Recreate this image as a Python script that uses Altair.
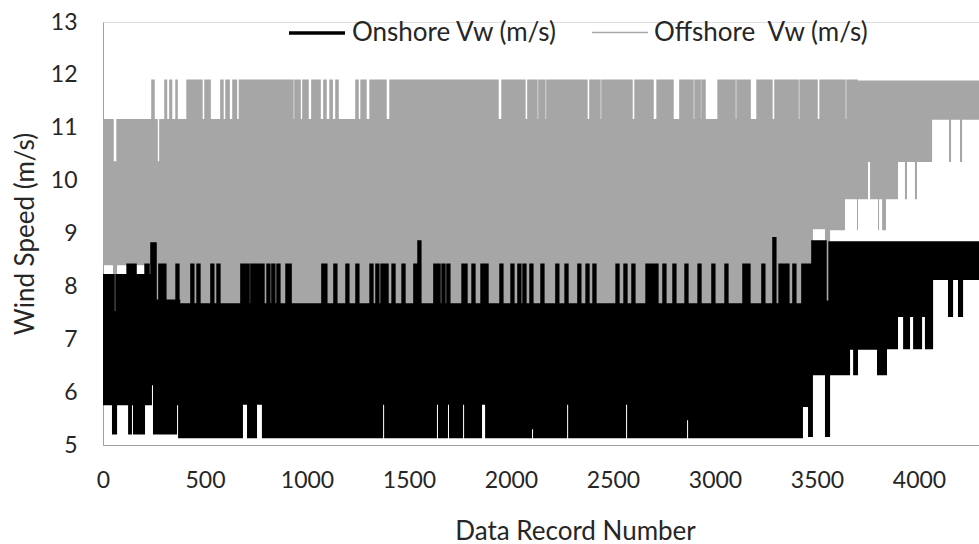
import altair as alt
import pandas as pd

# ---------------- data (record number, wind speed m/s) ----------------
X_MAX = 4294
SERIES = ["Onshore Vw (m/s)", "Offshore\u00a0 Vw (m/s)"]

# Offshore: upper envelope (step levels) and narrow dips in it
offshore_top_steps = [
    (0, 11.15), (49, 10.35), (69, 11.15), (240, 11.9), (250, 11.15), (265, 10.35), (279, 11.15),
    (304, 11.9), (311, 11.15), (328, 11.9), (336, 11.15), (358, 11.9), (363, 11.15), (412, 11.9),
    (485, 11.15), (500, 11.9), (525, 11.15), (578, 11.9), (588, 11.15), (603, 11.9), (618, 11.15),
    (637, 11.9), (654, 11.15), (669, 11.9), (931, 11.15), (941, 11.9), (966, 11.15), (980, 11.9),
    (1005, 11.15), (1024, 11.9), (1064, 11.15), (1083, 11.9), (1093, 11.15), (1113, 11.9),
    (1123, 11.15), (1142, 11.9), (1152, 11.15), (1240, 11.9), (1250, 11.15), (1265, 11.9),
    (1289, 11.15), (1309, 11.9), (1387, 11.15), (1407, 11.9), (3701, 11.88),
]
offshore_top_dips = [
    (1446, 1452, 10.4), (1463, 1468, 11.15), (1495, 1500, 11.15), (1659, 1665, 11.15),
    (1799, 1805, 11.15), (1936, 1956, 11.15), (2068, 2083, 11.15), (2127, 2137, 11.15),
    (2166, 2176, 11.15), (2206, 2211, 11.15), (2265, 2270, 11.15), (2372, 2387, 11.15),
    (2421, 2426, 11.15), (2436, 2446, 11.15), (2544, 2549, 11.15), (2593, 2608, 11.15),
    (2696, 2716, 11.15), (2794, 2828, 11.15), (2892, 2902, 11.15), (2927, 2936, 11.15),
    (2951, 3015, 11.15), (3034, 3039, 11.15), (3098, 3108, 11.15), (3172, 3206, 11.15),
    (3279, 3294, 11.15), (3407, 3417, 11.15), (3500, 3515, 11.15), (3549, 3554, 11.15),
    (3637, 3647, 11.15), (3696, 3701, 11.15),
]
# Offshore: lower envelope
offshore_bottom_steps = [
    (0, 8.4), (49, 7.5), (69, 8.4), (250, 7.72), (370, 7.65), (3480, 9.08), (3539, 7.7),
    (3564, 9.06), (3637, 9.65), (3897, 10.35), (4064, 11.15),
]
offshore_bottom_spikes = [
    (3696, 3701, 9.06), (3750, 3760, 10.35), (3799, 3804, 9.06), (3819, 3838, 9.06),
    (3931, 3941, 9.65), (3980, 3990, 9.65), (4147, 4157, 10.35), (4201, 4211, 10.35),
]

# Onshore: upper envelope and its upward spikes
onshore_top_steps = [
    (0, 8.2), (49, 7.5), (69, 8.2), (123, 8.4), (142, 8.2), (147, 8.4), (157, 8.2), (211, 8.4),
    (221, 8.2), (240, 8.8), (255, 7.72), (370, 7.65), (3431, 8.4), (3480, 8.84), (3539, 7.7),
    (3564, 8.82),
]
onshore_top_spikes = [
    (279, 283, 8.4), (299, 303, 8.4), (363, 367, 8.4), (436, 440, 8.4), (466, 470, 8.4),
    (534, 538, 8.4), (564, 568, 8.4), (681, 711, 8.4), (730, 745, 8.4), (760, 784, 8.4),
    (809, 813, 8.4), (833, 837, 8.4), (858, 862, 8.4), (902, 917, 8.4), (1078, 1082, 8.4),
    (1088, 1092, 8.4), (1137, 1141, 8.4), (1196, 1200, 8.4), (1245, 1249, 8.4), (1314, 1318, 8.4),
    (1343, 1347, 8.4), (1368, 1392, 8.4), (1422, 1426, 8.4), (1471, 1475, 8.4), (1529, 1533, 8.4),
    (1549, 1553, 8.84), (1627, 1647, 8.4), (1667, 1671, 8.4), (1691, 1695, 8.4), (1765, 1779, 8.4),
    (1814, 1818, 8.4), (1858, 1882, 8.4), (1951, 1955, 8.4), (2005, 2009, 8.4), (2039, 2043, 8.4),
    (2064, 2068, 8.4), (2098, 2102, 8.4), (2152, 2156, 8.4), (2225, 2229, 8.4), (2270, 2274, 8.4),
    (2333, 2337, 8.4), (2373, 2377, 8.4), (2407, 2411, 8.4), (2520, 2524, 8.4), (2559, 2563, 8.4),
    (2598, 2602, 8.4), (2667, 2671, 8.4), (2677, 2681, 8.4), (2691, 2695, 8.4), (2711, 2715, 8.4),
    (2750, 2754, 8.4), (2799, 2803, 8.4), (2858, 2862, 8.4), (2922, 2926, 8.4), (2990, 2994, 8.4),
    (3054, 3058, 8.4), (3142, 3146, 8.4), (3162, 3166, 8.4), (3235, 3239, 8.4), (3289, 3293, 8.9),
    (3319, 3323, 8.4), (3338, 3342, 8.4), (3353, 3357, 8.4), (3387, 3391, 8.4),
]
# Onshore: lower envelope and its upward notches
onshore_bottom_steps = [
    (0, 5.75), (44, 5.2), (69, 5.75), (123, 5.2), (142, 5.75), (147, 5.2), (206, 5.75),
    (240, 6.13), (245, 5.2), (363, 5.75), (368, 5.13), (3431, 5.72), (3456, 5.15), (3480, 6.32),
    (3539, 5.15), (3564, 6.32), (3662, 6.8), (3794, 6.32), (3843, 6.81), (3897, 7.42), (4069, 8.12),
]
onshore_bottom_spikes = [
    (686, 706, 5.76), (755, 779, 5.76), (1373, 1378, 5.76), (1637, 1642, 5.76), (1691, 1696, 5.76),
    (1765, 1770, 5.76), (1858, 1873, 5.76), (2103, 2108, 5.3), (2275, 2280, 5.76), (2564, 2569, 5.76),
    (2863, 2868, 5.47), (3677, 3701, 6.32), (3922, 3956, 6.81), (3971, 4015, 6.81),
    (4029, 4069, 6.81), (4142, 4167, 7.42), (4191, 4216, 7.42),
]

x_ticks = list(range(0, 4001, 500))
y_ticks = list(range(5, 14))


# ---------------- table building ----------------
def level_at(steps, extras, x):
    for s, e, v in extras:
        if s <= x < e:
            return v
    val = steps[0][1]
    for r, v in steps:
        if r <= x:
            val = v
        else:
            break
    return val


def band_table(name, top, top_extra, bottom, bottom_extra):
    pts = {0, X_MAX}
    for steps, extras in ((top, top_extra), (bottom, bottom_extra)):
        pts.update(r for r, _ in steps)
        for s, e, _ in extras:
            pts.update((s, e))
    rows = []
    for p in sorted(pts):
        rows.append({
            "rec": p,
            "hi": level_at(top, top_extra, p),
            "lo": level_at(bottom, bottom_extra, p),
            "series": name,
        })
    return pd.DataFrame(rows)


on_df = band_table(SERIES[0], onshore_top_steps, onshore_top_spikes,
                   onshore_bottom_steps, onshore_bottom_spikes)
off_df = band_table(SERIES[1], offshore_top_steps, offshore_top_dips,
                    offshore_bottom_steps, offshore_bottom_spikes)
both_df = pd.concat([on_df, off_df], ignore_index=True)

FONT = "Lato"
TXT = "#262626"
GRAY = "#a6a6a6"

xs = alt.Scale(domain=[0, X_MAX], nice=False, zero=True)
ys = alt.Scale(domain=[5, 13], nice=False, zero=False)

x_axis = alt.Axis(values=x_ticks, format="d", title="Data Record Number", grid=False,
                  tickSize=0, labelPadding=24, labelFontSize=23, labelFont=FONT, labelColor=TXT,
                  labelFlush=False, labelOverlap=False,
                  domainColor="#a0a0a0", titleFont=FONT, titleFontSize=26, titleFontWeight="normal",
                  titleColor=TXT, titleX=472, titleY=94, titleBaseline="alphabetic")
y_axis = alt.Axis(values=y_ticks, title="Wind Speed (m/s)", grid=False, tickSize=0,
                  labelPadding=26, labelFontSize=23, labelFont=FONT, labelColor=TXT,
                  labelFlush=False, labelOverlap=False,
                  domainColor="#a0a0a0", titleFont=FONT, titleFontSize=26, titleFontWeight="normal",
                  titleColor=TXT, titlePadding=12)

off_area = alt.Chart(off_df).mark_area(interpolate="step-after", color=GRAY).encode(
    x=alt.X("rec:Q", scale=xs, axis=x_axis),
    y=alt.Y("lo:Q", scale=ys, axis=y_axis),
    y2="hi:Q",
)
on_area = alt.Chart(on_df).mark_area(interpolate="step-after", color="#000000").encode(
    x=alt.X("rec:Q", scale=xs),
    y=alt.Y("lo:Q", scale=ys),
    y2="hi:Q",
)

legend = alt.Legend(orient="none", legendX=184, legendY=-19, direction="horizontal", title=None,
                    symbolType="stroke", symbolSize=3136, labelFont=FONT, labelFontSize=26,
                    labelColor=TXT, labelOffset=5, columnPadding=31, padding=0, labelLimit=0)

edge_lines = alt.Chart(both_df).mark_line(interpolate="step-after").encode(
    x=alt.X("rec:Q", scale=xs),
    y=alt.Y("hi:Q", scale=ys),
    color=alt.Color("series:N", scale=alt.Scale(domain=SERIES, range=["#000000", GRAY]),
                    legend=legend),
    strokeWidth=alt.StrokeWidth("series:N", scale=alt.Scale(domain=SERIES, range=[3.5, 1.5]),
                                legend=legend),
)

chart = alt.layer(off_area, on_area, edge_lines).properties(
    width=876, height=423,
    autosize=alt.AutoSizeParams(type="none"),
    padding={"left": 103, "top": 22, "right": 0, "bottom": 99},
).configure_view(stroke=None).configure(background="white")

chart.save("out.html", embed_options={"renderer": "svg", "actions": False})
